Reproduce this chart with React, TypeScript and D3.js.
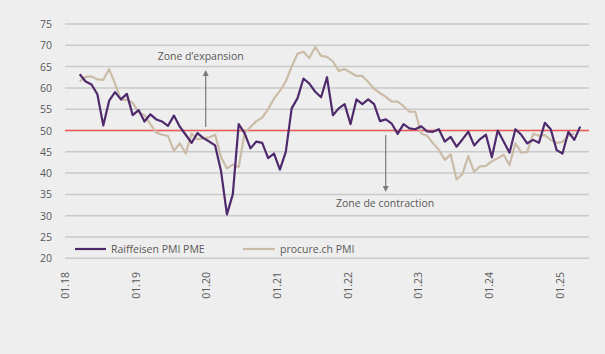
import React from "react";
import * as d3 from "d3";

// Month index 0 = Jan 2018; series start at index 2 (Mar 2018)
const startIndex = 2;
const raiffeisen: number[] = [
  63.2, 61.5, 60.8, 58.5, 51.2, 57, 59, 57.3, 58.6, 53.6,
  54.8, 52.1, 53.8, 52.6, 52.1, 51.1, 53.5, 50.9, 49, 47.1,
  49.4, 48.2, 47.4, 46.5, 40.5, 30.3, 35, 51.5, 49.4, 45.8,
  47.4, 47.1, 43.5, 44.6, 40.8, 45, 55.2, 57.6, 62.2, 61,
  59.1, 57.8, 62.5, 53.6, 55.2, 56.2, 51.5, 57.3, 56.2, 57.3,
  56.2, 52.2, 52.6, 51.6, 49.2, 51.5, 50.5, 50.3, 51, 49.8,
  49.7, 50.3, 47.4, 48.5, 46.2, 47.9, 49.7, 46.5, 48, 49,
  43.7, 50, 47.4, 44.8, 50.3, 49, 47, 47.8, 47.1, 51.8,
  50.3, 45.4, 44.6, 49.7, 47.8, 50.9,
];
const procure: number[] = [
  61.5, 62.6, 62.7, 62, 61.9, 64.4, 61, 57.2, 57.2, 56.5,
  54.3, 53.6, 51.5, 49.5, 49, 48.7, 45.2, 47, 44.6, 49.3,
  47.9, 48.2, 48.4, 49, 43.8, 41.1, 42, 41.4, 49.4, 50.8,
  52.2, 53, 55, 57.5, 59.3, 61.5, 65, 68, 68.5, 67,
  69.6, 67.5, 67.3, 66.2, 64, 64.4, 63.6, 62.8, 62.8, 61.4,
  59.8, 58.8, 57.9, 56.8, 56.8, 55.7, 54.4, 54.4, 49.3, 48.8,
  47, 45.5, 43.1, 44.4, 38.5, 39.8, 44, 40.3, 41.6, 41.7,
  42.8, 43.5, 44.3, 41.9, 47, 44.8, 45, 49.2, 48.8, 48.9,
  47.8, 47.1, 47.3, 48.8, 49.3,
];
const xTickLabels = ["01.18", "01.19", "01.20", "01.21", "01.22", "01.23", "01.24", "01.25"];
const yTicks = [20, 25, 30, 35, 40, 45, 50, 55, 60, 65, 70, 75];
const seriesNames = ["Raiffeisen PMI PME", "procure.ch PMI"];
const threshold = 50;
const totalMonths = 89;

const W = 605;
const H = 354;
const BG = "#eeeeee";
const PURPLE = "#4e2a6c";
const BEIGE = "#cbbca8";
const GRID = "#c9c9c9";
const TEXT = "#595959";
const FONT = "'Open Sans', 'Noto Sans', sans-serif";

export default function App() {
  const x = d3.scaleLinear().domain([0, totalMonths]).range([65, 589]);
  const y = d3.scaleLinear().domain([20, 75]).range([258.3, 24]);

  const line = d3
    .line<number>()
    .x((_, i) => x(startIndex + i + 0.5))
    .y((d) => y(d));

  return (
    <svg
      width={W}
      height={H}
      style={{ position: "absolute", left: 0, top: 0, background: BG }}
      fontFamily={FONT}
    >
      <rect x={0} y={0} width={W} height={H} fill={BG} />
      {yTicks.map((t) => (
        <g key={t}>
          <line x1={x(0)} x2={x(totalMonths)} y1={y(t)} y2={y(t)} stroke={GRID} strokeWidth={1.5} />
          <text x={52} y={y(t)} textAnchor="end" dominantBaseline="central" fontSize={10.5} fill={TEXT}>
            {t}
          </text>
        </g>
      ))}
      {xTickLabels.map((l, i) => (
        <text
          key={l}
          transform={`translate(${x(i * 12)},272) rotate(-90)`}
          textAnchor="end"
          dominantBaseline="central"
          fontSize={10.5}
          fill={TEXT}
        >
          {l}
        </text>
      ))}
      <line x1={x(0)} x2={x(totalMonths)} y1={y(threshold)} y2={y(threshold)} stroke="#ee5a55" strokeWidth={1.5} />
      <path d={line(procure) || ""} fill="none" stroke={BEIGE} strokeWidth={2.2} strokeLinejoin="round" />
      <path d={line(raiffeisen) || ""} fill="none" stroke={PURPLE} strokeWidth={2.2} strokeLinejoin="round" />

      {/* annotations */}
      <defs>
        <marker id="arr" viewBox="0 0 10 10" refX="5" refY="5" markerWidth="5" markerHeight="5" orient="auto-start-reverse">
          <path d="M0,0 L10,5 L0,10 z" fill="#7a7a7a" />
        </marker>
      </defs>
      <text x={157.7} y={56} dominantBaseline="central" fontSize={10.5} fill={TEXT}>
        Zone d’expansion
      </text>
      <line x1={205.7} x2={205.7} y1={127} y2={73} stroke="#7a7a7a" strokeWidth={1.2} markerEnd="url(#arr)" />
      <text x={336} y={203} dominantBaseline="central" fontSize={10.5} fill={TEXT}>
        Zone de contraction
      </text>
      <line x1={385.7} x2={385.7} y1={135} y2={189} stroke="#7a7a7a" strokeWidth={1.2} markerEnd="url(#arr)" />

      {/* legend */}
      <line x1={75} x2={106} y1={249} y2={249} stroke={PURPLE} strokeWidth={2.2} />
      <text x={111} y={249} dominantBaseline="central" fontSize={10.5} fill={TEXT}>
        {seriesNames[0]}
      </text>
      <line x1={243} x2={275} y1={249} y2={249} stroke={BEIGE} strokeWidth={2.2} />
      <text x={280} y={249} dominantBaseline="central" fontSize={10.5} fill={TEXT}>
        {seriesNames[1]}
      </text>
    </svg>
  );
}
